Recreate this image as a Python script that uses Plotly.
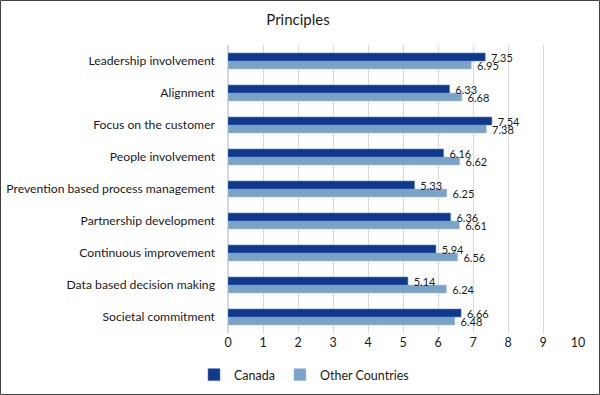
import plotly.graph_objects as go

categories = ["Leadership involvement", "Alignment", "Focus on the customer", "People involvement",
              "Prevention based process management", "Partnership development",
              "Continuous improvement", "Data based decision making", "Societal commitment"]
canada = [7.35, 6.33, 7.54, 6.16, 5.33, 6.36, 5.94, 5.14, 6.66]
other = [6.95, 6.68, 7.38, 6.62, 6.25, 6.61, 6.56, 6.24, 6.48]
x_ticks = [0, 1, 2, 3, 4, 5, 6, 7, 8, 9, 10]

W, H = 600, 395
L, R, T, B = 228, 22, 45, 62
pw, ph = W - L - R, H - T - B
font = "Lato, Open Sans, sans-serif"
txt = "#1a1a1a"

fig = go.Figure()
fig.add_trace(go.Bar(y=categories, x=other, name="Other Countries", orientation="h",
                     marker=dict(color="#7BA3C7", line=dict(color="#a9c4dd", width=0.6)),
                     text=[f" {v:.2f}" for v in other], textposition="outside",
                     constraintext="none", textangle=0,
                     textfont=dict(size=11, color=txt), cliponaxis=False))
fig.add_trace(go.Bar(y=categories, x=canada, name="Canada", orientation="h",
                     marker=dict(color="#0E3A8C", line=dict(color="#5a7fc0", width=0.6)),
                     text=[f" {v:.2f}" for v in canada], textposition="outside",
                     constraintext="none", textangle=0,
                     textfont=dict(size=11, color=txt), cliponaxis=False))

fig.update_layout(
    width=W, height=H,
    margin=dict(l=L, r=R, t=T, b=B, autoexpand=False),
    paper_bgcolor="white", plot_bgcolor="white",
    barmode="group", bargap=0.5, bargroupgap=0,
    font=dict(family=font, size=12, color=txt),
    title=dict(text="Principles", x=(298 - L) / pw, xref="paper", xanchor="center",
               y=1 - 20 / H, yanchor="middle", font=dict(size=15, color=txt)),
    xaxis=dict(range=[0, 10], tickvals=x_ticks, showgrid=True, gridcolor="#d9d9d9",
               gridwidth=1, zeroline=True, zerolinecolor="#d9d9d9", showline=False,
               ticks="", tickfont=dict(size=12.5), automargin=False),
    yaxis=dict(categoryorder="array", categoryarray=categories[::-1], autorange=True,
               showgrid=False, ticks="", ticklabelstandoff=12, tickfont=dict(size=12.2),
               automargin=False),
    legend=dict(orientation="h", x=(194 - L) / pw, xanchor="left", y=-(375 - (H - B)) / ph,
                yanchor="middle", traceorder="reversed", font=dict(size=12.5),
                itemwidth=30, tracegroupgap=0),
    showlegend=True,
)

fig.add_shape(type="rect", xref="paper", yref="paper",
              x0=(0.5 - L) / pw, x1=(W - 0.5 - L) / pw,
              y0=((H - B) - (H - 0.5)) / ph, y1=((H - B) - 0.5) / ph,
              line=dict(color="#404040", width=1), fillcolor="rgba(0,0,0,0)", layer="above")

fig.write_html("out.html", config={"displayModeBar": False},
               post_script="document.body.style.margin='0';document.body.style.overflow='hidden';")
